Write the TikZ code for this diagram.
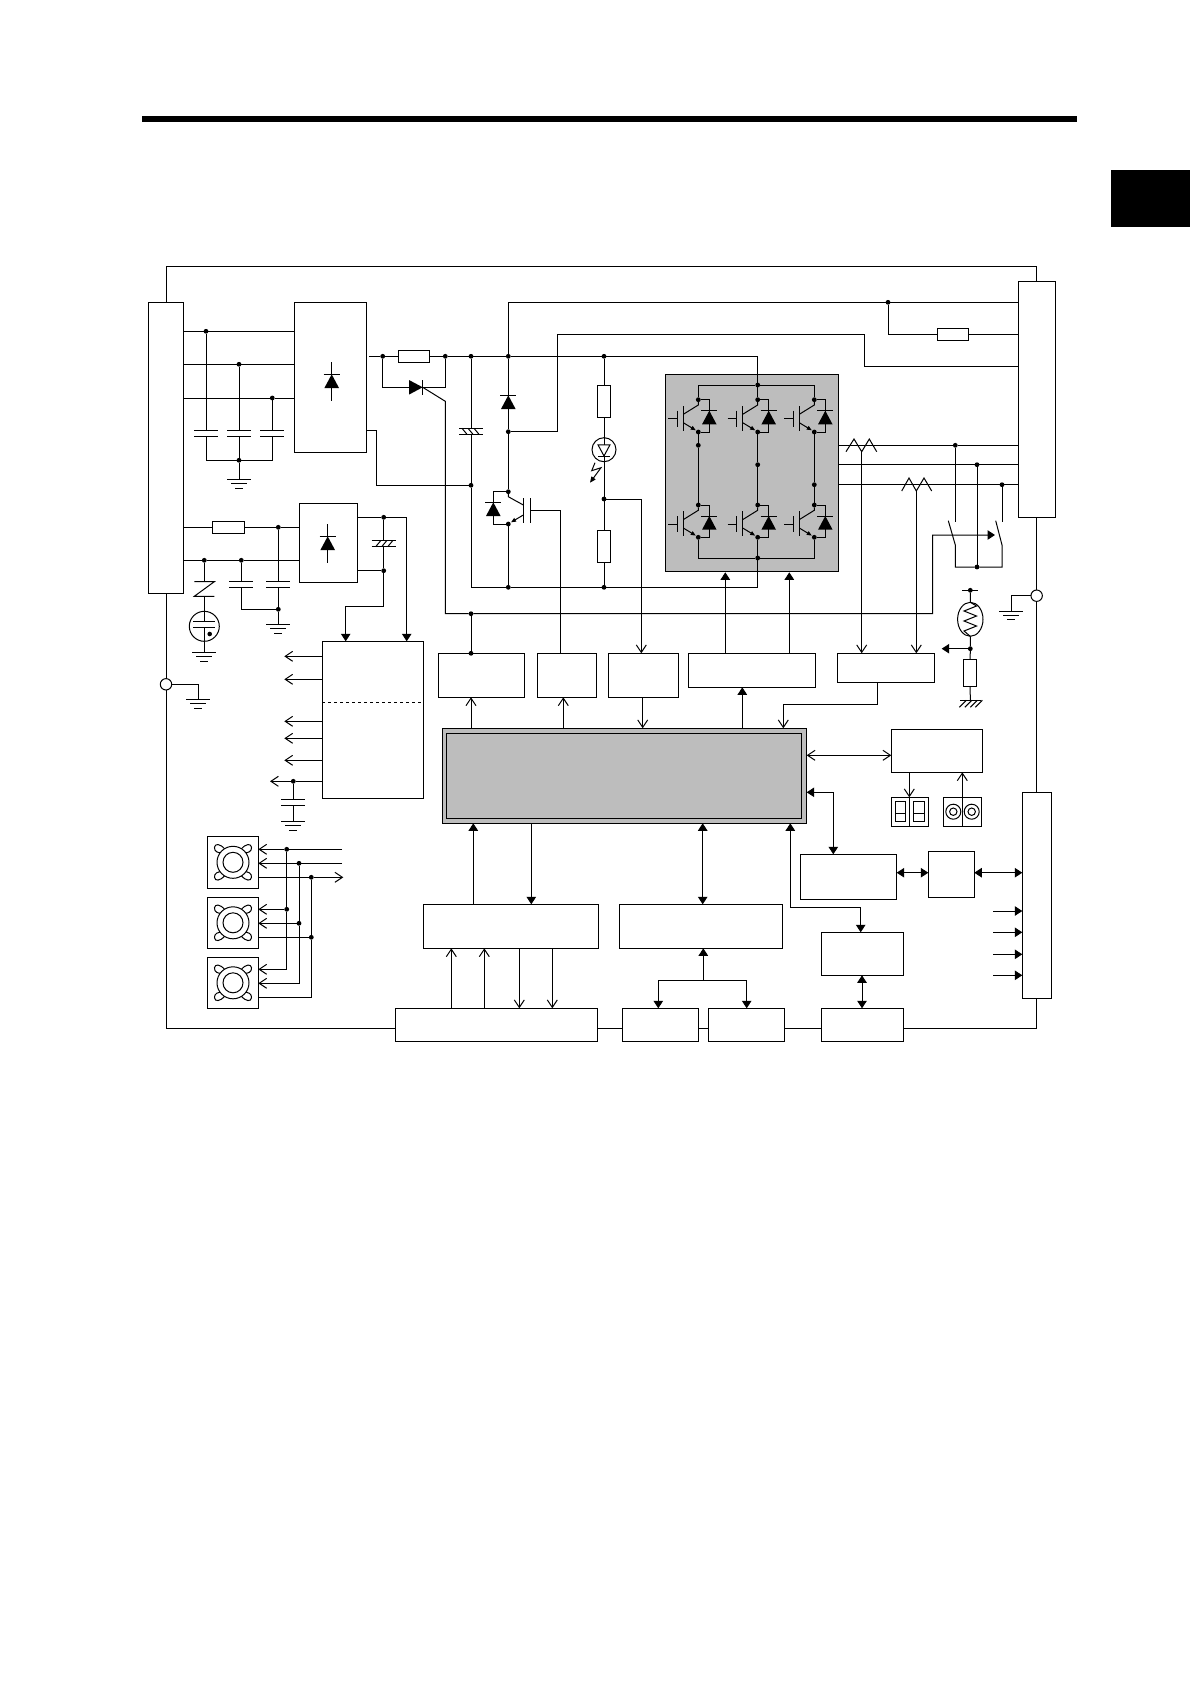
\documentclass[tikz,border=0pt]{standalone}
\usetikzlibrary{arrows.meta,shapes.geometric}
\definecolor{grybox}{RGB}{189,189,189}
\tikzset{
    blockbox/.style={draw, rectangle, fill=white, inner sep=0pt, outer sep=0pt},
    dotn/.style={circle, fill=black, inner sep=0pt, outer sep=0pt, minimum size=4.8pt},
    ringn/.style={draw, circle, fill=white, inner sep=0pt, outer sep=0pt},
    arro/.style={-{Straight Barb[length=7.5pt,width=10pt]}},
    arroo/.style={{Straight Barb[length=7.5pt,width=10pt]}-{Straight Barb[length=7.5pt,width=10pt]}},
    arrf/.style={-{Triangle[length=7.5pt,width=9.5pt]}},
    arrff/.style={{Triangle[length=7.5pt,width=9.5pt]}-{Triangle[length=7.5pt,width=9.5pt]}},
    ground/.pic={
        \coordinate (-t) at (0,0);
        \draw (-12,0) -- (12,0) (-8,4.4) -- (8,4.4) (-4,8.8) -- (4,8.8);
    },
    chassis/.pic={
        \coordinate (-t) at (0,0);
        \draw (-10,0) -- (11,0);
        \foreach \i in {-4,1.5,7,12} \draw (\i,0) -- (\i-7,7);
    },
    capv/.pic={
        \coordinate (-t) at (0,0);
        \coordinate (-b) at (0,5.7);
        \draw (-12,0) -- (12,0) (-12,5.7) -- (12,5.7);
    },
    capback/.pic={
        \coordinate (-t) at (0,0);
        \coordinate (-b) at (0,6);
        \draw (-12,0) -- (12,0) (-12,6) -- (12,6);
        \foreach \i in {-9,-3,3} \draw (\i,0) -- (\i+5,6);
    },
    capfwd/.pic={
        \coordinate (-t) at (0,0);
        \coordinate (-b) at (0,6);
        \draw (-12,0) -- (12,0) (-12,6) -- (12,6);
        \foreach \i in {-8,-2,4} \draw (\i+5,0) -- (\i,6);
    },
    diodeup/.pic={
        \fill (0,0) -- (-7.3,13.7) -- (7.3,13.7) -- cycle;
        \draw (-8,0) -- (8,0);
    },
    rectsym/.pic={
        \draw (0,-12.3) -- (0,26.4);
        \fill (0,0) -- (-7.3,13.7) -- (7.3,13.7) -- cycle;
        \draw (-8,0) -- (8,0);
    },
    igbt/.pic={
        \node[dotn] (-c) at (0,0) {};
        \node[dotn] (-e) at (0,32.3) {};
        \draw (-c) -- (0,5.3) -- (-15,14.6);
        \draw (-15,6.3) -- (-15,31);
        \draw (-21,11) -- (-21,27);
        \draw (-30,19) -- (-21,19);
        \draw[-{Triangle[length=5pt,width=4pt]}] (-15,23) -- (-2.5,30.6);
        \draw (-c) -- (11,0) -- (11,32.3) -- (-e);
        \pic at (11,11) {diodeup};
    },
    fanpic/.pic={
        \foreach \sx/\sy in {-1/-1,1/-1,-1/1,1/1}
            \draw ({\sx*18.5},{\sy*15}) .. controls ({\sx*18},{\sy*19}) and ({\sx*13},{\sy*19}) .. ({\sx*8},{\sy*13}) -- ({\sx*11},{\sy*9.5}) .. controls ({\sx*15},{\sy*9}) and ({\sx*19},{\sy*11}) .. cycle;
        \node[ringn, minimum size=32pt] (-o) at (0,0) {};
        \node[ringn, minimum size=20pt] (-i) at (0,0) {};
    }
}
\newcommand{\blk}[6][]{\node[blockbox, minimum width={(#5-#3)*1pt}, minimum height={(#6-#4)*1pt}, #1] (#2) at ({(#3+#5)/2},{(#4+#6)/2}) {};}
\begin{document}
\begin{tikzpicture}[x=1pt, y=-1pt, line width=1pt, color=black]
    \useasboundingbox (0,0) rectangle (1190,1684);
    \fill (142,116) rectangle (1077,122);
    \fill (1111,170) rectangle (1190,227);

    \blk{lconn}{148.3}{302.3}{183.7}{593.3}
    \blk{rconn}{1018.3}{281.3}{1055}{517.3}
    \blk{ioconn}{1022.3}{792.3}{1051}{998.3}
    \blk{rect1}{294.3}{302.3}{366.7}{452.3}
    \blk{rect2}{299.3}{503.3}{357.7}{582.3}
    \blk{pwr}{322.3}{641.3}{423.3}{798.3}
    \blk{boxinr}{438.3}{653.3}{524.3}{697.3}
    \blk{boxbrk}{537.3}{653.3}{596.7}{697.3}
    \blk{boxdcv}{608.3}{653.3}{678.7}{697.3}
    \blk{boxgate}{688.3}{653.3}{815.3}{687.3}
    \blk{boxct}{837.3}{653.3}{934.7}{682.3}
    \blk[fill=grybox]{invbox}{665.3}{374.3}{838.7}{571.3}
    \blk[fill=grybox]{cpu}{442.3}{728.3}{806.7}{823.3}
    \blk[fill=grybox]{cpuin}{446.3}{733.3}{801.7}{818.3}
    \blk{panel}{891.3}{729.3}{982.7}{772.3}
    \blk{disp}{891.3}{797.3}{928.7}{826.7}
    \blk{keys}{943.3}{797.3}{981.7}{826.7}
    \blk{boxcom}{800.3}{854.3}{896.7}{899.3}
    \blk{boxif}{928.3}{851.3}{974.3}{897.3}
    \blk{boxupr}{821.3}{932.3}{903.7}{975.3}
    \blk{boxenc}{423.3}{904.3}{598.7}{948.3}
    \blk{boxdrv}{619.3}{904.3}{782.7}{948.3}
    \blk{boxa}{395.3}{1008.3}{597.7}{1041.7}
    \blk{boxb}{622.3}{1008.3}{698.7}{1041.7}
    \blk{boxc}{708.3}{1008.3}{784.7}{1041.7}
    \blk{boxd}{821.3}{1008.3}{903.7}{1041.7}
    \blk{fan1}{207.3}{836.3}{258.3}{888.3}
    \blk{fan2}{207.3}{897.3}{258.3}{948.3}
    \blk{fan3}{207.3}{957.3}{258.3}{1008.3}
    \pic at (233,862.3) {fanpic};
    \pic at (233,922.8) {fanpic};
    \pic at (233,982.8) {fanpic};

    \node[ringn, minimum size=11.4pt] (gndl) at (166,684.3) {};
    \node[ringn, minimum size=11.4pt] (gndr) at (1036.65,595.7) {};
    \coordinate (frtl) at (166,266);
    \coordinate (frtr) at (1036.65,266);
    \coordinate (frbl) at (166,1028.3);
    \coordinate (frbr) at (1036.65,1028.3);
    \draw (lconn.north) -- (frtl) -- (frtr) -- (rconn.north);
    \draw (rconn.south) -- (gndr) -- (ioconn.north);
    \draw (lconn.south) -- (gndl) -- (frbl) -- (boxa.west |- frbl);
    \draw (boxa.east |- frbl) -- (boxb.west |- frbl);
    \draw (boxb.east |- frbl) -- (boxc.west |- frbl);
    \draw (boxc.east |- frbl) -- (boxd.west |- frbl);
    \draw (boxd.east |- frbl) -- (frbr) -- (ioconn.south);
    \pic (g5) at (198.3,699.3) {ground};
    \draw (gndl) -| (g5-t);
    \pic (g6) at (1011.3,611) {ground};
    \draw (gndr) -| (g6-t);

    \node[dotn] (lr) at (206,331.3) {};
    \node[dotn] (ls) at (239,364.3) {};
    \node[dotn] (lt) at (272.3,398) {};
    \node[dotn] (lg) at (239,460.3) {};
    \pic (c1) at (206,430.3) {capv};
    \pic (c2) at (239,430.3) {capv};
    \pic (c3) at (272.3,430.3) {capv};
    \pic (g1) at (239,479.3) {ground};
    \draw (lconn.east |- lr) -- (lr) -- (rect1.west |- lr);
    \draw (lconn.east |- ls) -- (ls) -- (rect1.west |- ls);
    \draw (lconn.east |- lt) -- (lt) -- (rect1.west |- lt);
    \draw (lr) -- (c1-t);
    \draw (ls) -- (c2-t);
    \draw (lt) -- (c3-t);
    \draw (c1-b) |- (lg);
    \draw (c3-b) |- (lg);
    \draw (c2-b) -- (lg) -- (g1-t);
    \pic at (331.7,374.3) {rectsym};

    \blk{res1}{398.3}{350.1}{429.7}{362.5}
    \node[dotn] (busa) at (382.7,356.3) {};
    \node[dotn] (busb) at (445.3,356.3) {};
    \node[dotn] (busc) at (471,356.3) {};
    \node[dotn] (busd) at (508.3,356.3) {};
    \node[dotn] (buse) at (604,356.3) {};
    \node[dotn] (igtop) at (757.7,385) {};
    \node[dotn] (igbot) at (757.7,558) {};
    \coordinate (rectout) at (369,356.3);
    \coordinate (busf) at (757.7,356.3);
    \draw (rectout) -- (busa) -- (res1) -- (busb) -- (busc) -- (busd) -- (buse) -- (busf) -- (igtop);
    \coordinate (thyk) at (422.7,387.3);
    \coordinate (thyg) at (445.3,401.3);
    \coordinate (rlya) at (445.3,613.7);
    \coordinate (rlyb) at (932.7,613.7);
    \coordinate (rlyc) at (932.7,535);
    \coordinate (rlyd) at (995,535);
    \draw (busa) -- (busa |- thyk) -- (busb |- thyk) -- (busb);
    \fill (422.7,387.3) -- (409,380) -- (409,394.6) -- cycle;
    \draw (422.7,380) -- (422.7,394.6);
    \node[dotn] (inrd) at (471,613.7) {};
    \node[dotn] (inrb) at (471,653.3) {};
    \draw[arrf] (thyk) -- (thyg) -- (rlya) -- (inrd) -- (rlyb) -- (rlyc) -- (rlyd);
    \draw (inrd) -- (inrb);

    \node[dotn] (dcm) at (471,485.3) {};
    \node[dotn] (dclb) at (508.3,587.3) {};
    \node[dotn] (dcle) at (604,587.3) {};
    \coordinate (dcla) at (471,587.3);
    \coordinate (dclf) at (757.7,587.3);
    \coordinate (rects) at (366.7,430.3);
    \coordinate (rectt) at (376.3,430.3);
    \pic (ch) at (471,428.3) {capback};
    \draw (busc) -- (ch-t);
    \draw (ch-b) -- (dcm) -- (dcla) -- (dclb) -- (dcle) -- (dclf) -- (igbot);
    \draw (rects) -- (rectt) |- (dcm);

    \coordinate (toph) at (508.3,302.3);
    \coordinate (n1) at (557.3,334.3);
    \coordinate (n2) at (864.3,334.3);
    \coordinate (n3) at (864.3,366.3);
    \node[dotn] (pdot) at (888,302.3) {};
    \blk{bres}{937.3}{328.1}{968.7}{340.5}
    \node[dotn] (brkm) at (508.3,431.7) {};
    \node[dotn] (brkc) at (508.3,491.7) {};
    \node[dotn] (brke) at (508.3,524) {};
    \coordinate (brkg) at (530.7,510);
    \coordinate (brkt) at (560.3,653.3);
    \draw (rconn.west |- toph) -- (pdot) -- (toph) -- (busd) -- (brkm) -- (brkc);
    \draw (pdot) |- (bres);
    \draw (bres) -- (rconn.west |- bres);
    \draw (brkm) -| (n1) -- (n2) -- (n3) -- (rconn.west |- n3);
    \draw (brke) -- (dclb);
    \pic at (508.3,395.3) {diodeup};
    \draw (brkc) -- (508.3,496.7) -- (523.3,505);
    \draw (523.3,498.3) -- (523.3,522.7);
    \draw (530.7,498.3) -- (530.7,522.7);
    \draw[-{Triangle[length=5pt,width=4pt]}] (523.3,515) -- (511,522.3);
    \draw (brkg) -| (brkt);
    \draw (brkc) -- (493.3,491.7) -- (493.3,524) -- (brke);
    \pic at (493.3,502.3) {diodeup};

    \blk{resa}{597.3}{385.3}{610.7}{417.3}
    \blk{resb}{597.3}{530.3}{610.7}{562.3}
    \node[dotn] (ledd) at (604,499) {};
    \coordinate (ledt) at (641.3,499);
    \draw (buse) -- (resa) -- (ledd) -- (resb) -- (dcle);
    \draw[arro] (ledd) -- (ledt) -- (ledt |- boxdcv.north);
    \node[draw, circle, inner sep=0pt, minimum size=24pt] (led) at (604,449.7) {};
    \draw[fill=white] (598,444.8) -- (610,444.8) -- (604,456) -- cycle;
    \draw (598,456) -- (610,456);
    \draw[-{Triangle[length=6pt,width=5pt]}] (595,462.7) -- (591.7,470.7) -- (601,467.7) -- (590,482.7);

    \pic (u1) at (698.3,399.7) {igbt};
    \pic (u2) at (757.7,399.7) {igbt};
    \pic (u3) at (814.3,399.7) {igbt};
    \pic (l1) at (698.3,505) {igbt};
    \pic (l2) at (757.7,505) {igbt};
    \pic (l3) at (814.3,505) {igbt};
    \node[dotn] (m1) at (698.3,445.3) {};
    \node[dotn] (m2) at (757.7,464.7) {};
    \node[dotn] (m3) at (814.3,484.7) {};
    \draw (u1-c) |- (igtop) -| (u3-c);
    \draw (u2-c) -- (igtop);
    \draw (u1-e) -- (m1) -- (l1-c);
    \draw (u2-e) -- (m2) -- (l2-c);
    \draw (u3-e) -- (m3) -- (l3-c);
    \draw (l1-e) |- (igbot) -| (l3-e);
    \draw (l2-e) -- (igbot);
    \draw[arrf] (725.3,0 |- boxgate.north) -- (725.3,572.3);
    \draw[arrf] (789.3,0 |- boxgate.north) -- (789.3,572.3);

    \node[dotn] (mu) at (955.3,445.3) {};
    \node[dotn] (mv) at (977,464.7) {};
    \node[dotn] (mw) at (1002,484.7) {};
    \node[dotn] (swd) at (977,567) {};
    \draw (invbox.east |- mu) -- (mu) -- (rconn.west |- mu);
    \draw (invbox.east |- mv) -- (mv) -- (rconn.west |- mv);
    \draw (invbox.east |- mw) -- (mw) -- (rconn.west |- mw);
    \coordinate (ctu) at (861.7,451.7);
    \coordinate (ctw) at (916.3,491);
    \draw (846,451.7) -- (854,439) -- (ctu) -- (869.3,439) -- (876.7,451.7);
    \draw (901.7,491) -- (909,478) -- (ctw) -- (924,478) -- (931.7,491);
    \draw[arro] (ctu) -- (ctu |- boxct.north);
    \draw[arro] (ctw) -- (ctw |- boxct.north);
    \draw (mu) -- (955.3,521.7);
    \draw (mw) -- (1002,521.7);
    \draw (mv) -- (swd);
    \draw (948.3,520.7) -- (955.3,545) -- (955.3,567) -- (swd) -- (1002,567) -- (1002,545) -- (995.7,520.7);

    \node[dotn] (thmt) at (970.3,590.3) {};
    \node[dotn] (thmd) at (970.3,648.7) {};
    \node[draw, ellipse, inner sep=0pt, minimum width=25.4pt, minimum height=34pt] (thm) at (970.3,619.3) {};
    \blk{thmr}{963.3}{659.3}{976.7}{686.3}
    \pic (g7) at (970.3,700.3) {chassis};
    \draw (962.3,590.3) -- (978.3,590.3);
    \draw (thmt) -- (thm) -- (thmd) -- (thmr) -- (g7-t);
    \draw (970.3,602.3) -- (976.5,606) -- (964,611) -- (976.5,616) -- (964,621) -- (976.5,626) -- (964,631) -- (970.3,636.3);
    \draw[arrf] (thmd) -- (941.7,648.7);
    \coordinate (cta) at (877.7,704.3);
    \coordinate (ctb) at (783.3,704.3);
    \draw (cta |- boxct.south) -- (cta) -- (ctb);
    \draw[arro] (ctb) -- (ctb |- cpu.north);

    \blk{res2}{212.3}{521.1}{244.7}{533.5}
    \node[dotn] (p1) at (278.3,527.3) {};
    \node[dotn] (p2) at (204.3,560.3) {};
    \node[dotn] (p3) at (241.3,560.3) {};
    \node[dotn] (p4) at (278.3,609.3) {};
    \pic (c4) at (241.3,581.7) {capv};
    \pic (c5) at (278.3,581.7) {capv};
    \pic (g2) at (278.3,624.3) {ground};
    \draw (lconn.east |- p1) -- (res2) -- (p1) -- (rect2.west |- p1);
    \draw (lconn.east |- p2) -- (p2) -- (p3) -- (rect2.west |- p3);
    \draw (p3) -- (c4-t);
    \draw (p1) -- (c5-t);
    \draw (c4-b) |- (p4);
    \draw (c5-b) -- (p4) -- (g2-t);
    \pic at (327.7,536.3) {rectsym};
    \coordinate (zt) at (204.3,581.7);
    \coordinate (zb) at (204.3,596.3);
    \draw (p2) -- (zt);
    \draw (194.3,581.7) -- (214.3,581.7) -- (194.3,596.3) -- (214.3,596.3);
    \node[draw, circle, inner sep=0pt, minimum size=30pt] (gas) at (204.3,626.3) {};
    \pic (g3) at (204.3,652.3) {ground};
    \coordinate (gast) at (204.3,621.7);
    \coordinate (gasb) at (204.3,627.3);
    \draw (zb) -- (gast);
    \draw (gasb) -- (g3-t);
    \draw (193.3,621.7) -- (215.3,621.7) (193.3,627.3) -- (215.3,627.3);
    \fill (209.7,634) circle (2.3);

    \node[dotn] (r2p) at (383.7,517.3) {};
    \node[dotn] (r2n) at (383.7,570.7) {};
    \coordinate (r2a) at (406.7,517.3);
    \coordinate (r2b) at (383.7,606.3);
    \coordinate (r2c) at (345.7,606.3);
    \pic (ci) at (383.7,540.7) {capfwd};
    \draw (rect2.east |- r2n) -- (r2n);
    \draw (r2p) -- (ci-t);
    \draw (ci-b) -- (r2n);
    \draw[arrf] (rect2.east |- r2p) -- (r2p) -- (r2a) -- (r2a |- pwr.north);
    \draw[arrf] (r2n) -- (r2b) -- (r2c) -- (r2c |- pwr.north);
    \draw[dashed] (pwr.west |- 0,702.3) -- (pwr.east |- 0,702.3);
    \foreach \y in {656.3,679.3,721.3,738.3,760.3}
        \draw[arro] (pwr.west |- 0,\y) -- (284.3,\y);
    \node[dotn] (pwrd) at (293.3,781.3) {};
    \pic (c6) at (293.3,799.7) {capv};
    \pic (g4) at (293.3,821.3) {ground};
    \draw[arro] (pwr.west |- pwrd) -- (pwrd) -- (270,781.3);
    \draw (pwrd) -- (c6-t);
    \draw (c6-b) -- (g4-t);

    \node[dotn] (f1a) at (286.7,849.3) {};
    \node[dotn] (f1b) at (299,863.3) {};
    \node[dotn] (f1c) at (311.3,877.3) {};
    \node[dotn] (f2a) at (286.7,909.3) {};
    \node[dotn] (f2b) at (299,923.3) {};
    \node[dotn] (f2c) at (311.3,937.3) {};
    \coordinate (f3a) at (286.7,969.3);
    \coordinate (f3b) at (299,983.3);
    \coordinate (f3c) at (311.3,997.3);
    \coordinate (fina) at (342,849.3);
    \coordinate (finb) at (342,863.3);
    \coordinate (fout) at (343.3,877.3);
    \draw[arro] (fina) -- (f1a) -- (fan1.east |- f1a);
    \draw[arro] (finb) -- (f1b) -- (fan1.east |- f1b);
    \draw[arro] (fan1.east |- f1c) -- (f1c) -- (fout);
    \draw[arro] (f2a) -- (fan2.east |- f2a);
    \draw[arro] (f2b) -- (fan2.east |- f2b);
    \draw (fan2.east |- f2c) -- (f2c);
    \draw (f1a) -- (f2a);
    \draw (f1b) -- (f2b);
    \draw (f1c) -- (f2c);
    \draw[arro] (f2a) -- (f3a) -- (fan3.east |- f3a);
    \draw[arro] (f2b) -- (f3b) -- (fan3.east |- f3b);
    \draw (f2c) -- (f3c) -- (fan3.east |- f3c);

    \draw[arro] (471,0 |- cpu.north) -- (471,0 |- boxinr.south);
    \draw[arro] (563.3,0 |- cpu.north) -- (563.3,0 |- boxbrk.south);
    \draw[arro] (642.7,0 |- boxdcv.south) -- (642.7,0 |- cpu.north);
    \draw[arrf] (742.3,0 |- cpu.north) -- (742.3,0 |- boxgate.south);
    \draw[arrf] (473.3,0 |- boxenc.north) -- (473.3,0 |- cpu.south);
    \draw[arrf] (531.3,0 |- cpu.south) -- (531.3,0 |- boxenc.north);
    \draw[arrff] (702.7,0 |- cpu.south) -- (702.7,0 |- boxdrv.north);
    \draw[arro] (451.3,0 |- boxa.north) -- (451.3,0 |- boxenc.south);
    \draw[arro] (484.3,0 |- boxa.north) -- (484.3,0 |- boxenc.south);
    \draw[arro] (519.3,0 |- boxenc.south) -- (519.3,0 |- boxa.north);
    \draw[arro] (552.3,0 |- boxenc.south) -- (552.3,0 |- boxa.north);
    \coordinate (drvj) at (703.3,980.3);
    \coordinate (drvb) at (658.3,980.3);
    \coordinate (drvc) at (746.7,980.3);
    \draw[arrf] (drvj) -- (drvj |- boxdrv.south);
    \draw[arrf] (drvj) -- (drvb) -- (drvb |- boxb.north);
    \draw[arrf] (drvj) -- (drvc) -- (drvc |- boxc.north);

    \coordinate (cpa) at (790.3,907.3);
    \coordinate (cpb) at (860.7,907.3);
    \draw[arrff] (cpa |- cpu.south) -- (cpa) -- (cpb) -- (cpb |- boxupr.north);
    \draw[arrff] (862,0 |- boxupr.south) -- (862,0 |- boxd.north);
    \coordinate (cpc) at (833.3,792.3);
    \draw[arrff] (cpu.east |- cpc) -- (cpc) -- (cpc |- boxcom.north);
    \draw[arroo] (cpu.east |- 0,755.3) -- (panel.west |- 0,755.3);
    \draw[arrff] (boxcom.east |- 0,872.7) -- (boxif.west |- 0,872.7);
    \draw[arrff] (boxif.east |- 0,872.7) -- (ioconn.west |- 0,872.7);
    \foreach \y in {911,932.3,954.3,975.3}
        \draw[arrf] (993,\y) -- (ioconn.west |- 0,\y);

    \draw[arro] (909.3,0 |- panel.south) -- (909.3,0 |- disp.north);
    \draw (909.3,0 |- disp.north) -- (909.3,0 |- disp.south);
    \draw (962.3,0 |- keys.south) -- (962.3,0 |- keys.north);
    \draw[arro] (962.3,0 |- keys.north) -- (962.3,0 |- panel.south);
    \draw (895.7,801.3) rectangle (905.7,821.7) (895.7,813) -- (905.7,813);
    \draw (913.3,801.3) rectangle (924.7,821.7) (913.3,813) -- (924.7,813);
    \draw (953.3,811.7) circle (7.5) (953.3,811.7) circle (3.7);
    \draw (971.7,811.7) circle (7.5) (971.7,811.7) circle (3.7);
\end{tikzpicture}
\end{document}
